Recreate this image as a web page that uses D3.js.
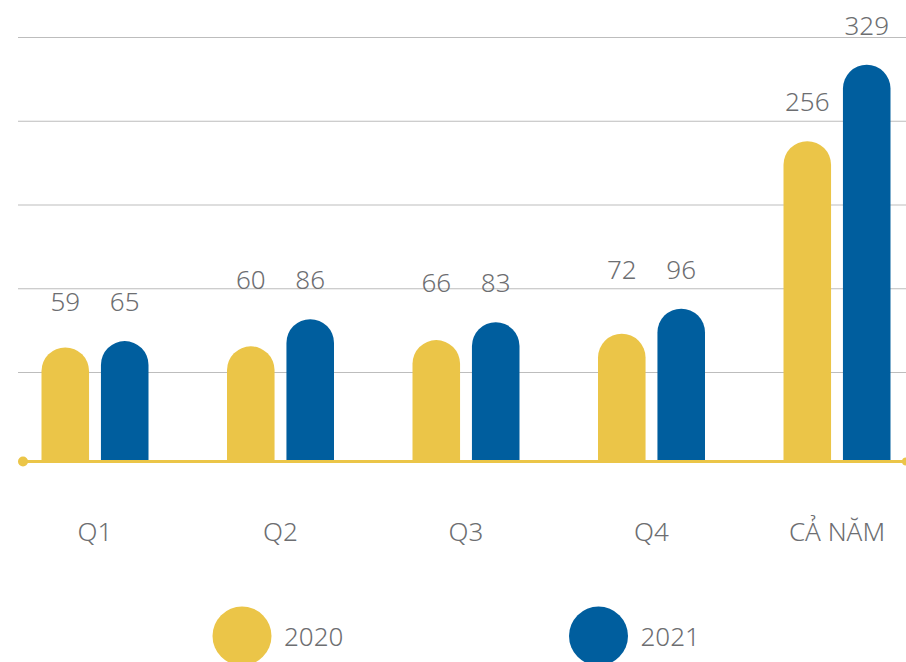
<!DOCTYPE html>
<html>
<head>
<meta charset="utf-8">
<script src="https://cdn.jsdelivr.net/npm/d3@7"></script>
<style>
  html, body { margin: 0; padding: 0; background: #fff; }
  svg { display: block; }
</style>
</head>
<body>
<div class="display__svg"></div>
<script>
// categories and series
const categories = ["Q1", "Q2", "Q3", "Q4", "CẢ NĂM"];
const years = ["2020", "2021"];
const values2020 = [59, 60, 66, 72, 256];
const values2021 = [65, 86, 83, 96, 329];
// unlabeled gridline values
const gridValues = [35, 115, 195, 275, 355];

const colors = { "2020": "#ebc548", "2021": "#005e9e" };
const textColor = "#6d6e71";
const font = "'Noto Sans', sans-serif";

const width = 906, height = 662;
const baseY = 461.5;

//build rows for each group
const data = categories.map((c, i) => ({
  cat: c,
  vals: [
    { year: "2020", value: values2020[i] },
    { year: "2021", value: values2021[i] }
  ]
}));

const svg = d3.select(".display__svg")
  .append("svg")
  .attr("width", width)
  .attr("height", height);

//scales
const xScale = d3.scalePoint().domain(categories).range([95, 837]);
const xInner = d3.scaleBand().domain(years).range([-53.5, 53.5]).paddingInner(0.2);
const yScale = d3.scaleLinear().domain([-50, 355]).range([baseY, 37.5]);

//gridlines
svg.append("g")
  .selectAll("line")
  .data(gridValues)
  .enter()
  .append("line")
  .attr("x1", 18)
  .attr("x2", width)
  .attr("y1", d => yScale(d))
  .attr("y2", d => yScale(d))
  .attr("stroke", "#bdbdbd")
  .attr("stroke-width", 1.2);

//rounded top bar path
function barPath(x0, w, top) {
  const r = w / 2;
  return `M${x0},${baseY} L${x0},${top + r} A${r},${r} 0 0 1 ${x0 + w},${top + r} L${x0 + w},${baseY} Z`;
}

const groups = svg.append("g")
  .selectAll(".group")
  .data(data)
  .enter()
  .append("g")
  .attr("class", "group")
  .attr("transform", d => `translate(${xScale(d.cat)},0)`);

groups.selectAll("path")
  .data(d => d.vals)
  .enter()
  .append("path")
  .attr("d", d => barPath(xInner(d.year), xInner.bandwidth(), yScale(d.value)))
  .attr("fill", d => colors[d.year]);

//value labels: shared height when bars are close, own height otherwise
groups.each(function(g) {
  const maxV = d3.max(g.vals, v => v.value);
  const spread = maxV - d3.min(g.vals, v => v.value);
  d3.select(this)
    .selectAll(".val")
    .data(g.vals)
    .enter()
    .append("text")
    .attr("class", "val")
    .attr("x", d => xInner(d.year) + xInner.bandwidth() / 2)
    .attr("y", d => yScale(spread > 50 ? d.value : maxV) - 30)
    .attr("text-anchor", "middle")
    .attr("fill", textColor)
    .style("font-family", font)
    .style("font-weight", 300)
    .style("font-size", "26px")
    .text(d => d.value);
});

//baseline axis
svg.append("line")
  .attr("x1", 23)
  .attr("x2", width)
  .attr("y1", baseY)
  .attr("y2", baseY)
  .attr("stroke", colors["2020"])
  .attr("stroke-width", 3);
svg.append("circle")
  .attr("cx", 23)
  .attr("cy", baseY)
  .attr("r", 5)
  .attr("fill", colors["2020"]);
svg.append("circle")
  .attr("cx", width)
  .attr("cy", baseY)
  .attr("r", 4)
  .attr("fill", colors["2020"]);

//category labels
svg.append("g")
  .selectAll("text")
  .data(categories)
  .enter()
  .append("text")
  .attr("x", d => xScale(d))
  .attr("y", 541)
  .attr("text-anchor", "middle")
  .attr("fill", textColor)
  .style("font-family", font)
  .style("font-weight", 300)
  .style("font-size", "26px")
  .text(d => d);

//legend
const legendX = d3.scalePoint().domain(years).range([242, 598.5]);
const legend = svg.append("g")
  .selectAll("g")
  .data(years)
  .enter()
  .append("g")
  .attr("transform", d => `translate(${legendX(d)},636)`);
legend.append("circle")
  .attr("r", 29.5)
  .attr("fill", d => colors[d]);
legend.append("text")
  .attr("x", 42)
  .attr("y", 10)
  .attr("fill", textColor)
  .style("font-family", font)
  .style("font-weight", 300)
  .style("font-size", "26px")
  .text(d => d);
</script>
</body>
</html>
